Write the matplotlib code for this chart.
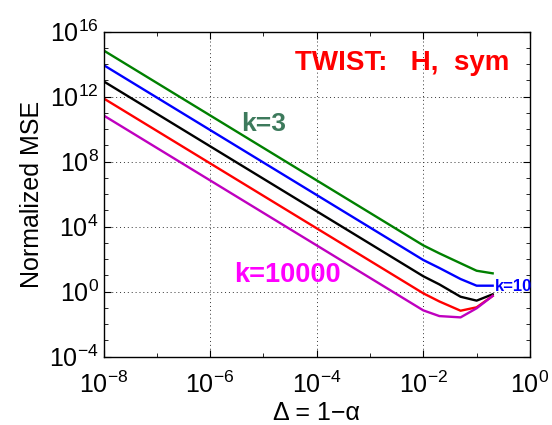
import numpy as np
import matplotlib
matplotlib.use("Agg")
import matplotlib.pyplot as plt
from matplotlib.ticker import LogLocator, NullFormatter

# ------------------------------------------------------------
# Data (log10 of normalized MSE)
# ------------------------------------------------------------
delta = [1e-8, 1e-7, 1e-6, 1e-5, 1e-4, 1e-3, 1e-2, 2e-2, 5e-2, 1e-1, 2e-1]

log_k3 = [14.85, 12.85, 10.85, 8.85, 6.85, 4.85, 2.85, 2.36, 1.75, 1.29, 1.13]
log_k10 = [13.95, 11.95, 9.95, 7.95, 5.95, 3.95, 1.95, 1.46, 0.78, 0.37, 0.37]
log_k100 = [12.95, 10.95, 8.95, 6.95, 4.95, 2.95, 0.95, 0.45, -0.31, -0.55, -0.16]
log_k1000 = [11.9, 9.9, 7.9, 5.9, 3.9, 1.9, -0.1, -0.6, -1.17, -0.96, -0.26]
log_k10000 = [10.85, 8.85, 6.85, 4.85, 2.85, 0.85, -1.15, -1.5, -1.58, -1.02, -0.26]

series = [
    (log_k3, "#008000"),
    (log_k10, "#0000ff"),
    (log_k100, "#000000"),
    (log_k1000, "#ff0000"),
    (log_k10000, "#bf00bf"),
]

plt.rcParams["font.family"] = ["Liberation Sans", "DejaVu Sans"]

fig = plt.figure(figsize=(5.52, 4.25), dpi=100)
ax = fig.add_axes([0.1875, 0.1607, 0.7725, 0.7647])

for vals, col in series:
    ax.loglog(delta, 10 ** np.array(vals), color=col, lw=1.7)

ax.set_xlim(1e-8, 1)
ax.set_ylim(1e-4, 1e16)

ax.xaxis.set_major_locator(LogLocator(base=100, numticks=10))
ax.yaxis.set_major_locator(LogLocator(base=10000, numticks=10))
ax.xaxis.set_minor_locator(LogLocator(base=10, numticks=20))
ax.yaxis.set_minor_locator(LogLocator(base=10, numticks=30))
ax.xaxis.set_minor_formatter(NullFormatter())
ax.yaxis.set_minor_formatter(NullFormatter())

ax.tick_params(which="both", direction="in", top=True, right=True, labelsize=18)
ax.tick_params(which="major", length=5, width=0.8)
ax.tick_params(which="minor", length=3, width=0.6)
ax.tick_params(axis="x", which="major", pad=11)
ax.grid(True, which="major", color="#333333", linestyle=(0, (1, 3)), lw=0.7)
for s in ax.spines.values():
    s.set_linewidth(1.0)

ax.set_xlabel("Δ = 1−α", fontsize=18, labelpad=2)
ax.set_ylabel("Normalized MSE", fontsize=18, labelpad=4)

# annotations
ax.text(0.448, 0.904, "TWIST:   H,  sym", transform=ax.transAxes, color="#ff0000",
        fontsize=20, fontweight="bold", va="center", ha="left")
ax.text(0.322, 0.717, "k=3", transform=ax.transAxes, color="#3d7a5c",
        fontsize=19, fontweight="bold", va="center", ha="left")
ax.text(0.3075, 0.25, "k=10000", transform=ax.transAxes, color="#ff00ff",
        fontsize=19.5, fontweight="bold", va="center", ha="left")
ax.text(0.917, 0.217, "k=10", transform=ax.transAxes, color="#0000ff",
        fontsize=12, fontweight="bold", va="center", ha="left", clip_on=False, zorder=5)

fig.savefig("out.png", dpi=100)
